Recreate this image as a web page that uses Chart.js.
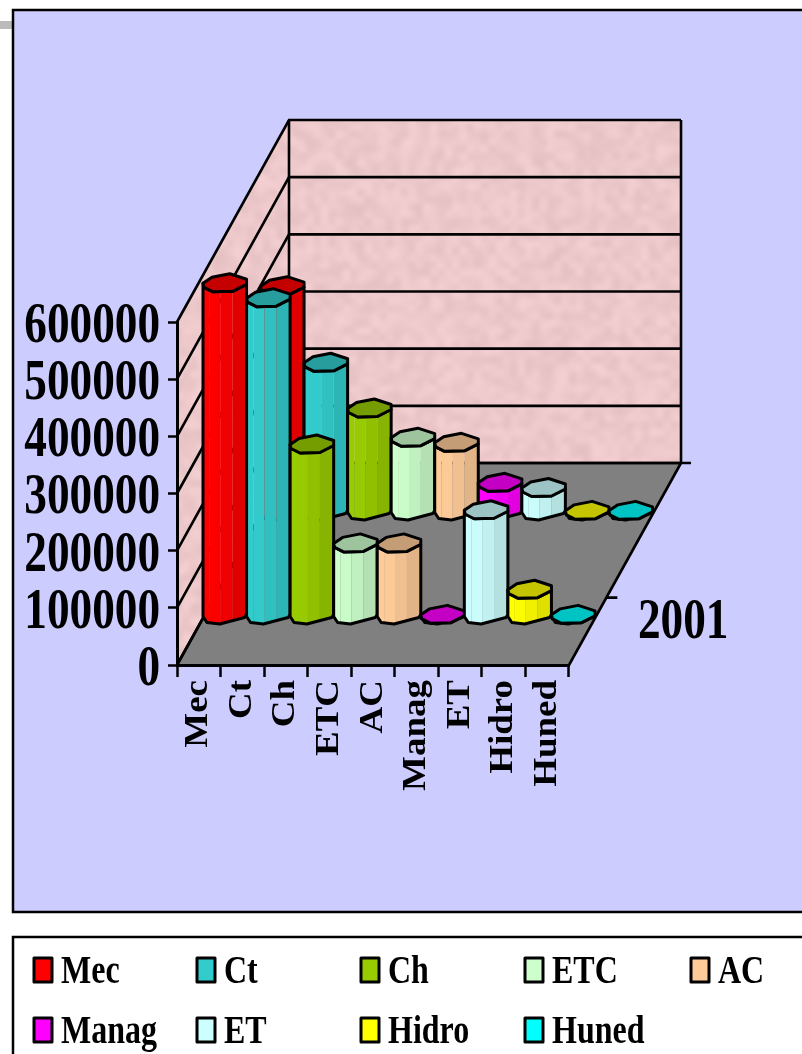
<!DOCTYPE html>
<html>
<head>
<meta charset="utf-8">
<title>Chart</title>
<style>
  html, body { margin: 0; padding: 0; background: #fff; }
  canvas { display: block; }
</style>
<script src="https://cdn.jsdelivr.net/npm/chart.js@4"></script>
</head>
<body>
<canvas id="myChart" width="802" height="1054"></canvas>
<script>
const categories = ['Mec', 'Ct', 'Ch', 'ETC', 'AC', 'Manag', 'ET', 'Hidro', 'Huned'];
const frontValues = [582000, 556000, 300000, 127000, 127000, 2000, 185000, 46000, 2000];
const backValues = [395000, 261000, 181000, 130000, 121000, 51000, 42000, 2000, 2000];
const frontLabel = '2001';
const colors = ['#ff0000', '#33cccc', '#99cc00', '#ccffcc', '#ffcc99', '#ff00ff', '#ccffff', '#ffff00', '#00ffff'];

const serif = '"Liberation Serif", serif';
const squeeze = 0.78;

// how far the walls and each row of bars are pushed back into the picture
const wallDepth = { x: 112, y: -202 };
const frontShift = { x: 26, y: -49 };
const backShift = { x: 83.5, y: -153 };

// outline of an eight sided column, in px for a bar that is 44 wide
const capShape = [[-22, 0], [-13, -6], [5, -9.5], [22, -4], [22, 1], [8, 8], [-12, 8.5], [-21, 4]];
const capFront = [[22, 1], [8, 8], [-12, 8.5], [-21, 4], [-22, 0]];
const baseFront = [[-22, 1], [-18, 7], [-5, 8.5], [20, 2], [22, -1]];
const strips = [[-22, -15, 1], [-15, -4, 0.99], [-4, 8, 0.94], [8, 22, 0.88]];

function shade(hex, f) {
  const n = parseInt(hex.slice(1), 16);
  const r = Math.round((n >> 16) * f);
  const g = Math.round(((n >> 8) & 255) * f);
  const b = Math.round((n & 255) * f);
  return 'rgb(' + r + ',' + g + ',' + b + ')';
}

// mottled pink paper for the walls
function wallTexture() {
  const small = document.createElement('canvas');
  small.width = 110;
  small.height = 145;
  const s = small.getContext('2d');
  for (let y = 0; y < small.height; y++) {
    for (let x = 0; x < small.width; x++) {
      const h = Math.sin(x * 12.9898 + y * 78.233) * 43758.5453;
      const d = (h - Math.floor(h) - 0.5) * 15;
      s.fillStyle = 'rgb(' + Math.round(236 + d) + ',' + Math.round(200 + d) + ',' + Math.round(203 + d) + ')';
      s.fillRect(x, y, 1, 1);
    }
  }
  const big = document.createElement('canvas');
  big.width = 802;
  big.height = 1054;
  const b = big.getContext('2d');
  b.imageSmoothingEnabled = true;
  b.imageSmoothingQuality = 'high';
  b.drawImage(small, 0, 0, 802, 1054);
  return big;
}

function polygon(ctx, pts) {
  ctx.beginPath();
  pts.forEach((p, i) => (i ? ctx.lineTo(p[0], p[1]) : ctx.moveTo(p[0], p[1])));
  ctx.closePath();
}

function squeezedText(ctx, text, x, y, font) {
  ctx.save();
  ctx.translate(x, y);
  ctx.scale(squeeze, 1);
  ctx.font = font;
  ctx.fillStyle = '#000';
  ctx.textAlign = 'left';
  ctx.textBaseline = 'alphabetic';
  ctx.fillText(text, 0, 0);
  ctx.restore();
}

// tick labels in the picture are stretched, so wrap the scale's own label drawing
function stretchLabels(axis, anchorX, anchorY, sx, sy, shiftY) {
  if (axis.stretched) return;
  axis.stretched = true;
  const drawLabels = axis.drawLabels;
  axis._computeLabelArea = () => undefined;
  axis.drawLabels = function (area) {
    const ctx = this.ctx;
    ctx.save();
    ctx.translate(anchorX, anchorY + shiftY);
    ctx.scale(sx, sy);
    ctx.translate(-anchorX, -anchorY);
    drawLabels.call(this, area);
    ctx.restore();
  };
}

function drawColumn(ctx, el, color, shift) {
  const k = el.width / 44;
  const cx = el.x + shift.x;
  const top = el.y + shift.y;
  const bottom = el.base + shift.y;
  const body = [];
  baseFront.forEach(p => body.push([cx + p[0] * k, bottom + p[1]]));
  capFront.forEach(p => body.push([cx + p[0] * k, top + p[1]]));

  ctx.save();
  polygon(ctx, body);
  ctx.clip();
  strips.forEach(s => {
    ctx.fillStyle = shade(color, s[2]);
    ctx.fillRect(cx + s[0] * k, top - 12, (s[1] - s[0]) * k, bottom - top + 24);
  });
  ctx.restore();

  ctx.strokeStyle = '#000';
  ctx.lineWidth = 3;
  ctx.lineJoin = 'round';
  polygon(ctx, body);
  ctx.stroke();

  polygon(ctx, capShape.map(p => [cx + p[0] * k, top + p[1]]));
  ctx.fillStyle = shade(color, 0.77);
  ctx.fill();
  ctx.stroke();
}

const scene = {
  id: 'scene',
  beforeDraw(chart) {
    const ctx = chart.ctx;
    const { left, right } = chart.chartArea;
    const yScale = chart.scales.y;
    const zero = yScale.getPixelForValue(0);
    const top = yScale.getPixelForValue(600000);
    const d = wallDepth;

    ctx.save();
    ctx.fillStyle = '#fff';
    ctx.fillRect(0, 0, 802, 1054);
    ctx.fillStyle = '#bbbbbb';
    ctx.fillRect(0, 21, 13, 8);

    ctx.fillStyle = '#ccccff';
    ctx.fillRect(13, 10, 800, 902);
    ctx.strokeStyle = '#000';
    ctx.lineWidth = 2.5;
    ctx.strokeRect(13, 10, 800, 902);

    ctx.strokeRect(13, 937, 800, 130);

    // walls
    const paper = ctx.createPattern(wallTexture(), 'no-repeat');
    ctx.fillStyle = paper;
    polygon(ctx, [[left, zero], [left, top], [left + d.x, top + d.y], [left + d.x, zero + d.y]]);
    ctx.fill();
    polygon(ctx, [[left + d.x, top + d.y], [right + d.x, top + d.y], [right + d.x, zero + d.y], [left + d.x, zero + d.y]]);
    ctx.fill();

    // floor
    ctx.fillStyle = '#808080';
    polygon(ctx, [[left, zero], [right, zero], [right + d.x, zero + d.y], [left + d.x, zero + d.y]]);
    ctx.fill();

    ctx.strokeStyle = '#000';
    ctx.lineWidth = 2.6;
    yScale.ticks.forEach(t => {
      const y = yScale.getPixelForValue(t.value);
      ctx.beginPath();
      ctx.moveTo(left, y);
      ctx.lineTo(left + d.x, y + d.y);
      ctx.lineTo(right + d.x, y + d.y);
      ctx.stroke();
    });
    ctx.beginPath();
    ctx.moveTo(left + d.x, top + d.y);
    ctx.lineTo(left + d.x, zero + d.y);
    ctx.moveTo(right + d.x, top + d.y);
    ctx.lineTo(right + d.x, zero + d.y);
    ctx.moveTo(left, zero);
    ctx.lineTo(left + d.x, zero + d.y);
    ctx.lineTo(right + d.x + 10, zero + d.y);
    ctx.moveTo(right, zero);
    ctx.lineTo(right + d.x, zero + d.y);
    // tick on the depth edge, a third of the way back
    ctx.moveTo(right + d.x / 3, zero + d.y / 3);
    ctx.lineTo(right + d.x / 3 + 11, zero + d.y / 3);
    ctx.stroke();
    ctx.restore();
  },
  beforeDatasetsDraw(chart) {
    const ctx = chart.ctx;
    [[1, backShift], [0, frontShift]].forEach(row => {
      chart.getDatasetMeta(row[0]).data.forEach((el, i) => {
        drawColumn(ctx, el, colors[i], row[1]);
      });
    });
    return false;
  },
  afterDraw(chart) {
    const ctx = chart.ctx;
    squeezedText(ctx, frontLabel, 638, 638, 'bold 58px ' + serif);

    // legend, five to a row
    categories.forEach((name, i) => {
      const col = i % 5;
      const row = Math.floor(i / 5);
      const x = [34, 197, 361, 525, 691][col];
      const y = 958 + row * 60;
      ctx.save();
      ctx.fillStyle = colors[i];
      ctx.strokeStyle = '#000';
      ctx.lineWidth = 3;
      ctx.lineJoin = 'round';
      ctx.fillRect(x, y, 18, 24);
      ctx.strokeRect(x, y, 18, 24);
      ctx.restore();
      squeezedText(ctx, name, x + 27, y + 25, 'bold 41px ' + serif);
    });
  }
};

new Chart(document.getElementById('myChart'), {
  type: 'bar',
  data: {
    labels: categories,
    datasets: [
      { label: frontLabel, data: frontValues, backgroundColor: colors, grouped: false, barPercentage: 1, categoryPercentage: 1 },
      { label: 'back row', data: backValues, backgroundColor: colors, grouped: false, barPercentage: 1, categoryPercentage: 1 }
    ]
  },
  options: {
    responsive: false,
    animation: false,
    devicePixelRatio: 1,
    layout: { padding: { top: 322, right: 233, left: 0, bottom: 0 } },
    plugins: {
      legend: { display: false },
      tooltip: { enabled: false }
    },
    scales: {
      x: {
        afterFit(axis) {
          axis.height = 389;
          stretchLabels(axis, 0, 680, 1, 1.12, 0);
        },
        border: { color: '#000', width: 3 },
        grid: { drawOnChartArea: false, color: '#000', tickLength: 12, tickWidth: 2.5 },
        ticks: {
          autoSkip: false,
          minRotation: 90,
          maxRotation: 90,
          padding: 3,
          color: '#000',
          font: { family: serif, size: 33, weight: 'bold' }
        }
      },
      y: {
        min: 0,
        max: 600000,
        afterFit(axis) {
          axis.width = 177;
          stretchLabels(axis, 160, 0, squeeze, 1, 5);
        },
        border: { color: '#000', width: 3 },
        grid: { drawOnChartArea: false, color: '#000', tickLength: 9, tickWidth: 2.5 },
        ticks: {
          autoSkip: false,
          stepSize: 100000,
          padding: 8,
          color: '#000',
          font: { family: serif, size: 58, weight: 'bold' },
          callback: v => String(v)
        }
      }
    }
  },
  plugins: [scene]
});
</script>
</body>
</html>
